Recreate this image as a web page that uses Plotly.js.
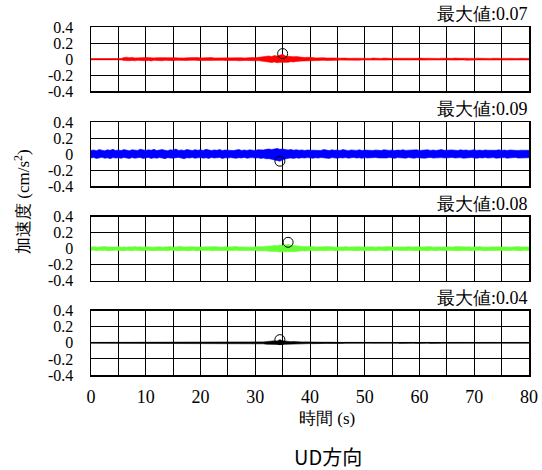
<!DOCTYPE html>
<html><head><meta charset="utf-8">
<script src="https://cdn.plot.ly/plotly-3.0.1.min.js"></script>
<style>html,body{margin:0;padding:0;background:#fff}</style>
</head><body><div id="chart" style="width:542px;height:470px"></div>
<script>
// sample spacing of the envelope arrays (seconds)
const SAMPLE_STEP = 0.5;

// Panel 1 (red) signal envelope
const redUpper = [
0.008,0.008,0.008,0.008,0.008,0.008,0.008,0.008,0.008,0.008,
0.008,0.008,0.02,0.025,0.018,0.022,0.016,0.02,0.015,0.019,
0.022,0.017,0.02,0.016,0.018,0.021,0.015,0.019,0.017,0.02,
0.014,0.018,0.016,0.02,0.015,0.017,0.019,0.014,0.016,0.02,
0.015,0.018,0.014,0.017,0.02,0.015,0.016,0.014,0.018,0.015,
0.017,0.014,0.016,0.019,0.015,0.017,0.014,0.018,0.016,0.02,
0.017,0.022,0.019,0.03,0.035,0.04,0.032,0.045,0.038,0.05,
0.06,0.04,0.035,0.038,0.03,0.032,0.025,0.022,0.02,0.024,
0.018,0.02,0.016,0.019,0.015,0.018,0.014,0.016,0.013,0.015,
0.012,0.014,0.011,0.013,0.01,0.015,0.011,0.012,0.01,0.013,
0.01,0.012,0.009,0.014,0.01,0.011,0.009,0.013,0.01,0.012,
0.009,0.011,0.01,0.014,0.009,0.01,0.012,0.009,0.011,0.01,
0.013,0.009,0.01,0.011,0.009,0.014,0.01,0.009,0.012,0.01,
0.009,0.011,0.01,0.013,0.009,0.01,0.012,0.009,0.01,0.011,
0.009,0.012,0.01,0.009,0.013,0.01,0.009,0.011,0.01,0.012,
0.009,0.01,0.011,0.009,0.012,0.01,0.009,0.011,0.01,0.009,
0.009];
const redLower = [
-0.008,-0.008,-0.008,-0.008,-0.008,-0.008,-0.008,-0.008,-0.008,-0.008,
-0.008,-0.008,-0.018,-0.022,-0.02,-0.016,-0.021,-0.015,-0.019,-0.017,
-0.02,-0.016,-0.022,-0.015,-0.019,-0.017,-0.02,-0.014,-0.018,-0.016,
-0.019,-0.015,-0.017,-0.014,-0.018,-0.016,-0.015,-0.019,-0.014,-0.017,
-0.016,-0.014,-0.018,-0.015,-0.016,-0.019,-0.014,-0.017,-0.015,-0.016,
-0.014,-0.018,-0.015,-0.016,-0.02,-0.014,-0.017,-0.016,-0.019,-0.017,
-0.02,-0.018,-0.024,-0.028,-0.032,-0.036,-0.042,-0.035,-0.045,-0.04,
-0.042,-0.036,-0.04,-0.032,-0.035,-0.028,-0.03,-0.024,-0.022,-0.02,
-0.021,-0.017,-0.019,-0.016,-0.018,-0.015,-0.017,-0.014,-0.016,-0.013,
-0.014,-0.012,-0.013,-0.011,-0.014,-0.01,-0.012,-0.011,-0.013,-0.01,
-0.011,-0.01,-0.012,-0.009,-0.011,-0.013,-0.009,-0.01,-0.012,-0.009,
-0.01,-0.012,-0.009,-0.01,-0.013,-0.009,-0.01,-0.011,-0.009,-0.012,
-0.01,-0.009,-0.012,-0.01,-0.009,-0.011,-0.013,-0.009,-0.01,-0.011,
-0.01,-0.009,-0.012,-0.009,-0.011,-0.01,-0.009,-0.013,-0.01,-0.009,
-0.011,-0.01,-0.009,-0.012,-0.009,-0.01,-0.011,-0.009,-0.012,-0.01,
-0.009,-0.011,-0.01,-0.009,-0.012,-0.009,-0.01,-0.011,-0.009,-0.01,
-0.009];

// Panel 2 (blue) signal envelope
const blueUpper = [
0.045,0.05,0.042,0.055,0.048,0.04,0.052,0.046,0.058,0.044,
0.05,0.043,0.055,0.047,0.041,0.053,0.049,0.045,0.06,0.048,
0.044,0.052,0.046,0.058,0.043,0.05,0.055,0.047,0.042,0.053,
0.048,0.062,0.045,0.051,0.044,0.056,0.049,0.043,0.054,0.047,
0.052,0.045,0.058,0.048,0.043,0.051,0.046,0.055,0.044,0.05,
0.047,0.053,0.043,0.049,0.056,0.045,0.05,0.044,0.052,0.048,
0.045,0.054,0.048,0.05,0.058,0.062,0.055,0.066,0.07,0.058,
0.062,0.055,0.05,0.057,0.048,0.053,0.046,0.051,0.044,0.049,
0.047,0.053,0.045,0.05,0.044,0.056,0.048,0.043,0.052,0.046,
0.05,0.044,0.055,0.047,0.042,0.051,0.048,0.045,0.053,0.043,
0.049,0.046,0.052,0.044,0.05,0.047,0.043,0.054,0.048,0.045,
0.051,0.043,0.049,0.046,0.053,0.044,0.048,0.05,0.045,0.052,
0.044,0.049,0.047,0.053,0.045,0.05,0.043,0.048,0.055,0.046,
0.049,0.044,0.051,0.047,0.043,0.052,0.046,0.05,0.044,0.048,
0.053,0.045,0.049,0.043,0.051,0.047,0.044,0.05,0.046,0.052,
0.045,0.049,0.043,0.05,0.047,0.053,0.044,0.048,0.046,0.05,
0.046];
const blueLower = [
-0.05,-0.044,-0.056,-0.047,-0.042,-0.053,-0.048,-0.058,-0.045,-0.051,
-0.046,-0.054,-0.043,-0.05,-0.057,-0.045,-0.052,-0.048,-0.044,-0.055,
-0.049,-0.043,-0.056,-0.047,-0.052,-0.045,-0.05,-0.058,-0.046,-0.049,
-0.054,-0.047,-0.043,-0.051,-0.06,-0.046,-0.05,-0.044,-0.053,-0.048,
-0.045,-0.052,-0.047,-0.055,-0.043,-0.05,-0.048,-0.044,-0.056,-0.047,
-0.051,-0.045,-0.049,-0.054,-0.046,-0.05,-0.043,-0.053,-0.048,-0.045,
-0.052,-0.047,-0.055,-0.05,-0.06,-0.058,-0.066,-0.072,-0.078,-0.09,
-0.072,-0.06,-0.054,-0.05,-0.056,-0.048,-0.053,-0.046,-0.051,-0.045,
-0.049,-0.054,-0.046,-0.051,-0.044,-0.05,-0.047,-0.055,-0.045,-0.049,
-0.053,-0.046,-0.05,-0.044,-0.052,-0.048,-0.043,-0.051,-0.047,-0.054,
-0.045,-0.05,-0.047,-0.053,-0.044,-0.049,-0.052,-0.046,-0.05,-0.043,
-0.048,-0.054,-0.045,-0.05,-0.047,-0.052,-0.044,-0.049,-0.053,-0.046,
-0.05,-0.045,-0.052,-0.047,-0.043,-0.051,-0.048,-0.054,-0.045,-0.049,
-0.046,-0.052,-0.044,-0.05,-0.048,-0.045,-0.053,-0.047,-0.05,-0.044,
-0.049,-0.053,-0.046,-0.05,-0.044,-0.051,-0.048,-0.045,-0.052,-0.047,
-0.05,-0.045,-0.052,-0.047,-0.049,-0.044,-0.051,-0.048,-0.046,-0.05,
-0.047];

// Panel 3 (green) signal envelope
const greenUpper = [
0.02,0.025,0.018,0.023,0.019,0.027,0.021,0.018,0.024,0.02,
0.026,0.019,0.022,0.017,0.025,0.021,0.028,0.02,0.023,0.018,
0.024,0.021,0.027,0.019,0.022,0.025,0.018,0.023,0.02,0.026,
0.019,0.024,0.021,0.029,0.02,0.023,0.018,0.025,0.022,0.02,
0.027,0.021,0.024,0.019,0.023,0.026,0.02,0.022,0.018,0.025,
0.021,0.024,0.019,0.028,0.022,0.02,0.025,0.021,0.023,0.019,
0.025,0.022,0.028,0.024,0.031,0.029,0.035,0.04,0.037,0.045,
0.041,0.047,0.055,0.043,0.039,0.035,0.031,0.028,0.025,0.029,
0.023,0.026,0.021,0.025,0.02,0.024,0.027,0.021,0.023,0.019,
0.025,0.022,0.02,0.026,0.021,0.024,0.019,0.023,0.025,0.02,
0.022,0.027,0.02,0.023,0.019,0.025,0.021,0.024,0.02,0.026,
0.021,0.023,0.019,0.025,0.022,0.02,0.026,0.021,0.024,0.019,
0.025,0.02,0.023,0.021,0.027,0.019,0.024,0.022,0.02,0.025,
0.021,0.024,0.019,0.026,0.022,0.02,0.023,0.021,0.025,0.019,
0.023,0.021,0.026,0.02,0.024,0.019,0.022,0.025,0.021,0.023,
0.02,0.025,0.022,0.019,0.024,0.021,0.026,0.02,0.023,0.021,
0.022];
const greenLower = [
-0.021,-0.017,-0.025,-0.019,-0.023,-0.018,-0.026,-0.02,-0.022,-0.019,
-0.024,-0.02,-0.027,-0.019,-0.022,-0.025,-0.018,-0.023,-0.021,-0.026,
-0.019,-0.023,-0.02,-0.025,-0.021,-0.018,-0.024,-0.022,-0.027,-0.02,
-0.023,-0.019,-0.026,-0.021,-0.024,-0.02,-0.025,-0.019,-0.022,-0.028,
-0.02,-0.024,-0.021,-0.018,-0.025,-0.022,-0.02,-0.026,-0.021,-0.023,
-0.025,-0.02,-0.023,-0.019,-0.024,-0.027,-0.021,-0.023,-0.02,-0.025,
-0.022,-0.026,-0.024,-0.029,-0.027,-0.033,-0.031,-0.037,-0.035,-0.041,
-0.038,-0.043,-0.039,-0.035,-0.037,-0.031,-0.033,-0.027,-0.029,-0.025,
-0.026,-0.022,-0.025,-0.02,-0.023,-0.026,-0.021,-0.024,-0.019,-0.025,
-0.021,-0.024,-0.027,-0.02,-0.023,-0.019,-0.025,-0.022,-0.02,-0.024,
-0.026,-0.02,-0.023,-0.021,-0.025,-0.019,-0.024,-0.022,-0.027,-0.02,
-0.023,-0.026,-0.02,-0.022,-0.025,-0.021,-0.019,-0.024,-0.022,-0.026,
-0.02,-0.024,-0.022,-0.026,-0.019,-0.023,-0.025,-0.02,-0.024,-0.021,
-0.025,-0.02,-0.023,-0.021,-0.026,-0.022,-0.019,-0.024,-0.021,-0.025,
-0.021,-0.025,-0.02,-0.023,-0.027,-0.021,-0.024,-0.02,-0.023,-0.022,
-0.024,-0.02,-0.025,-0.022,-0.019,-0.024,-0.021,-0.025,-0.02,-0.023,
-0.021];

// Panel 4 (black) signal envelope
const blackUpper = [
0.005,0.005,0.005,0.005,0.005,0.005,0.005,0.005,0.005,0.005,
0.005,0.005,0.008,0.01,0.007,0.009,0.006,0.01,0.008,0.007,
0.009,0.006,0.008,0.01,0.007,0.009,0.006,0.008,0.007,0.009,
0.006,0.008,0.007,0.01,0.006,0.008,0.007,0.009,0.006,0.007,
0.006,0.007,0.005,0.008,0.006,0.007,0.005,0.006,0.008,0.006,
0.005,0.007,0.006,0.005,0.008,0.006,0.007,0.005,0.006,0.008,
0.006,0.009,0.008,0.012,0.015,0.02,0.018,0.025,0.022,0.04,
0.025,0.02,0.018,0.015,0.016,0.012,0.014,0.011,0.012,0.01,
0.011,0.009,0.01,0.008,0.009,0.007,0.008,0.006,0.008,0.007,
0.006,0.007,0.005,0.006,0.007,0.005,0.006,0.005,0.007,0.005,
0.005,0.006,0.005,0.005,0.007,0.005,0.006,0.005,0.005,0.006,
0.005,0.005,0.007,0.005,0.006,0.005,0.005,0.007,0.005,0.006,
0.006,0.005,0.005,0.007,0.005,0.006,0.005,0.005,0.006,0.005,
0.005,0.007,0.005,0.006,0.005,0.005,0.007,0.005,0.006,0.005,
0.006,0.005,0.005,0.007,0.005,0.005,0.006,0.005,0.007,0.005,
0.005,0.006,0.005,0.005,0.007,0.005,0.006,0.005,0.005,0.006,
0.005];
const blackLower = [
-0.005,-0.005,-0.005,-0.005,-0.005,-0.005,-0.005,-0.005,-0.005,-0.005,
-0.005,-0.005,-0.007,-0.009,-0.008,-0.006,-0.01,-0.007,-0.009,-0.008,
-0.007,-0.009,-0.006,-0.008,-0.01,-0.007,-0.008,-0.006,-0.009,-0.007,
-0.008,-0.006,-0.009,-0.007,-0.008,-0.006,-0.009,-0.007,-0.006,-0.008,
-0.005,-0.007,-0.006,-0.005,-0.008,-0.006,-0.007,-0.005,-0.006,-0.007,
-0.006,-0.005,-0.007,-0.006,-0.005,-0.008,-0.006,-0.005,-0.007,-0.006,
-0.008,-0.007,-0.01,-0.012,-0.016,-0.018,-0.02,-0.022,-0.025,-0.02,
-0.022,-0.018,-0.016,-0.014,-0.012,-0.013,-0.011,-0.012,-0.01,-0.011,
-0.009,-0.01,-0.008,-0.009,-0.007,-0.008,-0.007,-0.008,-0.006,-0.007,
-0.006,-0.005,-0.007,-0.006,-0.005,-0.006,-0.007,-0.005,-0.006,-0.005,
-0.006,-0.005,-0.005,-0.006,-0.005,-0.007,-0.005,-0.005,-0.006,-0.005,
-0.005,-0.006,-0.005,-0.007,-0.005,-0.005,-0.006,-0.005,-0.005,-0.007,
-0.005,-0.006,-0.005,-0.005,-0.007,-0.005,-0.006,-0.005,-0.005,-0.006,
-0.006,-0.005,-0.007,-0.005,-0.005,-0.006,-0.005,-0.007,-0.005,-0.005,
-0.005,-0.006,-0.005,-0.005,-0.007,-0.005,-0.005,-0.006,-0.005,-0.006,
-0.006,-0.005,-0.005,-0.007,-0.005,-0.006,-0.005,-0.005,-0.006,-0.005,
-0.005];

// Peak (maximum absolute) points and labels per panel
const peakTimes  = [35.0, 34.5, 36.0, 34.5];
const peakValues = [0.07, -0.09, 0.08, 0.04];
const peakLabels = ['最大値:0.07', '最大値:0.09', '最大値:0.08', '最大値:0.04'];

// Axis ticks
const xTickVals = [0,10,20,30,40,50,60,70,80];
const xTickText = ['0','10','20','30','40','50','60','70','80'];
const X_GRID_STEP = 5;
const yTickVals = [-0.4,-0.2,0,0.2,0.4];
const yTickText = ['-0.4','-0.2','0','0.2','0.4'];

const xAxisTitle = '時間 (s)';
const yAxisTitle = '加速度 (cm/s<sup>2</sup>)';
const chartTitle = 'UD方向';

// ---------- styling / layout ----------
const W = 542, H = 470;
const colors = ['#ff0000', '#0000ff', '#66ff33', '#000000'];
const envelopes = [[redUpper, redLower],[blueUpper, blueLower],[greenUpper, greenLower],[blackUpper, blackLower]];
const panelTopPx = [27.3, 122, 216.7, 310.7];
const panelBotPx = [91, 186, 280.7, 375];
const xDom = [91/W, 529/W];
const serif = '"Liberation Serif", "Times New Roman", serif';

const times = arr => arr.map((_, i) => i * SAMPLE_STEP);

const data = [];
const layout = {
  width: W, height: H,
  margin: {l: 0, r: 0, t: 0, b: 0},
  paper_bgcolor: '#fff', plot_bgcolor: '#fff',
  showlegend: false, hovermode: false,
  font: {family: serif, color: '#000'},
  annotations: []
};

envelopes.forEach((env, k) => {
  const n = k === 0 ? '' : String(k + 1);
  const xa = 'x' + n, ya = 'y' + n;
  data.push({x: times(env[0]), y: env[0], xaxis: xa, yaxis: ya, type: 'scatter', mode: 'lines',
             line: {color: colors[k], width: 0.6}});
  data.push({x: times(env[1]), y: env[1], xaxis: xa, yaxis: ya, type: 'scatter', mode: 'lines',
             fill: 'tonexty', fillcolor: colors[k], line: {color: colors[k], width: 0.6}});
  data.push({x: [peakTimes[k]], y: [peakValues[k]], xaxis: xa, yaxis: ya, type: 'scatter', mode: 'markers',
             marker: {symbol: 'circle-open', size: 10, color: '#000', line: {width: 1, color: '#000'}}});

  layout['xaxis' + n] = {
    domain: xDom, anchor: ya, range: [0, 80],
    tickmode: 'array', tickvals: xTickVals, ticktext: xTickText,
    showticklabels: k === 3, ticks: '', ticklabelstandoff: 5,
    tickfont: {family: serif, size: 18, color: '#000'},
    showgrid: true, gridcolor: '#000', gridwidth: 1, zeroline: false,
    minor: {tickmode: 'linear', tick0: 0, dtick: X_GRID_STEP, showgrid: true, gridcolor: '#000', gridwidth: 1, ticks: ''},
    showline: true, mirror: true, linecolor: '#000', linewidth: 1.5
  };
  layout['yaxis' + n] = {
    domain: [1 - panelBotPx[k]/H, 1 - panelTopPx[k]/H], anchor: xa, range: [-0.4, 0.4],
    tickmode: 'array', tickvals: yTickVals, ticktext: yTickText,
    ticks: '', ticklabelstandoff: 13,
    tickfont: {family: serif, size: 16, color: '#000'},
    showgrid: true, gridcolor: '#000', gridwidth: 1, zeroline: false,
    showline: true, mirror: true, linecolor: '#000', linewidth: 1.5
  };
  layout.annotations.push({
    xref: 'paper', yref: 'paper', x: 530/W, y: 1 - (panelTopPx[k] - 1)/H,
    xanchor: 'right', yanchor: 'bottom', showarrow: false, text: peakLabels[k],
    font: {family: serif, size: 18, color: '#000'}
  });
});

layout.annotations.push({
  xref: 'paper', yref: 'paper', x: 22/W, y: 1 - 202/H, xanchor: 'center', yanchor: 'middle',
  textangle: -90, showarrow: false, text: yAxisTitle, font: {family: serif, size: 17, color: '#000'}
});
layout.annotations.push({
  xref: 'paper', yref: 'paper', x: 327/W, y: 1 - 418/H, xanchor: 'center', yanchor: 'middle',
  showarrow: false, text: xAxisTitle, font: {family: serif, size: 17, color: '#000'}
});
layout.annotations.push({
  xref: 'paper', yref: 'paper', x: 328/W, y: 1 - 456/H, xanchor: 'center', yanchor: 'middle',
  showarrow: false, text: chartTitle, font: {family: '"Noto Sans CJK JP", sans-serif', size: 20, color: '#000'}
});

Plotly.newPlot('chart', data, layout, {staticPlot: true, displayModeBar: false});
</script></body></html>
